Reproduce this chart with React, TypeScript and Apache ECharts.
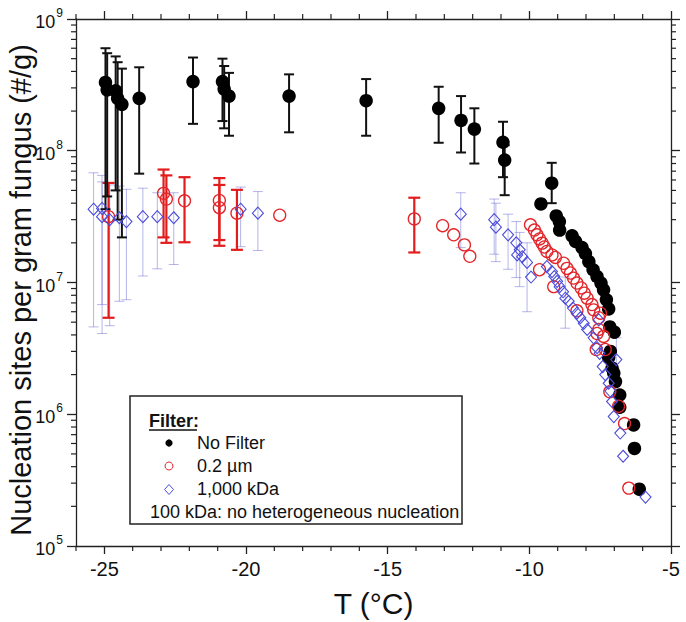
import React, { useEffect, useRef } from 'react';
import * as echarts from 'echarts';

// ---------- data ----------
const xTickValues = [-25, -20, -15, -10, -5];
const yDecades = [1e5, 1e6, 1e7, 1e8, 1e9];

// No Filter (black filled circles)
const noFilterT = [-24.96, -24.9, -24.6, -24.53, -24.38, -23.77, -21.87, -20.83, -20.77, -20.6, -18.48, -15.76, -13.2, -12.41, -11.94, -10.93, -10.87, -9.21, -9.59, -9.05, -8.94, -8.93, -8.49, -8.37, -8.14, -8.02, -7.9, -7.75, -7.61, -7.47, -7.38, -7.28, -7.2, -7.16, -7.0, -7.14, -7.2, -7.08, -7.02, -6.96, -6.81, -6.81, -6.32, -6.29, -6.12];
const noFilterN = [3.3e8, 2.9e8, 2.85e8, 2.5e8, 2.25e8, 2.5e8, 3.35e8, 3.35e8, 2.94e8, 2.6e8, 2.6e8, 2.4e8, 2.1e8, 1.7e8, 1.46e8, 1.16e8, 8.5e7, 5.67e7, 3.95e7, 3.2e7, 2.9e7, 2.5e7, 2.26e7, 2.05e7, 1.84e7, 1.66e7, 1.44e7, 1.25e7, 1.11e7, 9.9e6, 8.8e6, 7.4e6, 6.3e6, 4.6e6, 4.2e6, 3.0e6, 2.7e6, 2.24e6, 2.05e6, 1.77e6, 1.4e6, 1.13e6, 8.3e5, 5.5e5, 2.7e5];
const noFilterErrT = [-24.96, -24.9, -24.6, -24.53, -24.38, -23.77, -21.87, -20.83, -20.77, -20.6, -18.48, -15.76, -13.2, -12.41, -11.94, -10.93, -10.87, -9.21];
const noFilterErrLow = [3.6e7, 4.5e7, 5.0e7, 3.0e7, 2.2e7, 6.7e7, 1.6e8, 1.68e8, 1.48e8, 1.3e8, 1.38e8, 1.3e8, 1.15e8, 9.7e7, 8.0e7, 6.3e7, 4.6e7, 4.0e7];
const noFilterErrHigh = [6.0e8, 5.5e8, 5.2e8, 4.7e8, 4.2e8, 4.3e8, 5.1e8, 5.0e8, 4.4e8, 3.9e8, 3.8e8, 3.5e8, 3.06e8, 2.6e8, 2.1e8, 1.66e8, 1.1e8, 8.1e7];

// 0.2 µm (red open circles)
const filter02T = [-24.85, -22.91, -22.81, -22.17, -20.94, -20.94, -20.32, -18.81, -14.06, -13.06, -12.67, -12.29, -12.1, -9.96, -9.82, -9.73, -9.64, -9.55, -9.47, -9.38, -9.64, -9.2, -9.08, -9.14, -8.79, -8.67, -8.55, -8.44, -8.32, -8.17, -8.06, -7.96, -7.79, -7.73, -7.49, -7.55, -8.32, -7.55, -7.61, -7.38, -7.64, -7.32, -7.16, -6.85, -6.64, -6.49];
const filter02N = [3.16e7, 4.75e7, 4.3e7, 4.17e7, 4.2e7, 3.7e7, 3.36e7, 3.24e7, 3.04e7, 2.7e7, 2.3e7, 1.93e7, 1.58e7, 2.74e7, 2.5e7, 2.3e7, 2.14e7, 1.99e7, 1.86e7, 1.72e7, 1.25e7, 1.62e7, 1.55e7, 9.3e6, 1.4e7, 1.28e7, 1.18e7, 1.08e7, 9.9e6, 9.1e6, 8.3e6, 7.6e6, 6.8e6, 6.2e6, 5.85e6, 5.4e6, 6.1e6, 4.4e6, 4.1e6, 3.9e6, 3.1e6, 3.1e6, 1.48e6, 1.15e6, 8.5e5, 2.75e5];
const filter02ErrT = [-24.85, -22.91, -22.81, -22.17, -20.94, -20.94, -20.32, -14.06];
const filter02ErrLow = [5.4e6, 2.2e7, 2.0e7, 2.02e7, 1.9e7, 2.1e7, 1.77e7, 1.69e7];
const filter02ErrHigh = [5.7e7, 7.2e7, 6.5e7, 6.3e7, 6.2e7, 5.5e7, 5.05e7, 4.4e7];

// 1,000 kDa (blue open diamonds)
const kda1000T = [-25.38, -25.08, -25.08, -24.81, -24.47, -24.22, -23.64, -23.13, -22.55, -20.19, -19.58, -12.42, -11.24, -11.18, -10.75, -10.46, -10.34, -10.43, -10.25, -10.08, -9.94, -9.38, -9.2, -9.12, -9.02, -8.93, -8.81, -8.73, -8.61, -8.46, -8.32, -8.2, -8.08, -7.96, -7.73, -7.55, -7.61, -7.52, -7.41, -7.32, -7.2, -7.14, -7.08, -7.02, -6.93, -6.79, -6.69, -5.9];
const kda1000N = [3.6e7, 3.65e7, 3.16e7, 3.0e7, 3.1e7, 2.9e7, 3.16e7, 3.16e7, 3.1e7, 3.6e7, 3.36e7, 3.3e7, 3.0e7, 2.63e7, 2.3e7, 2.0e7, 1.77e7, 1.62e7, 1.57e7, 1.42e7, 1.1e7, 1.32e7, 1.21e7, 1.11e7, 1.02e7, 9.3e6, 8.5e6, 7.6e6, 7.2e6, 6.4e6, 5.85e6, 5.4e6, 4.9e6, 4.4e6, 3.8e6, 5.2e6, 3.2e6, 2.9e6, 2.3e6, 2.0e6, 1.72e6, 1.5e6, 1.25e6, 9.6e5, 2.6e6, 7.2e5, 4.8e5, 2.35e5];
const kda1000ErrT = [-25.38, -25.08, -25.08, -24.81, -24.47, -24.22, -23.64, -23.13, -22.55, -20.19, -19.58, -12.42, -11.24, -11.18, -10.75, -10.46, -10.34, -10.08, -8.73, -6.93];
const kda1000ErrLow = [4.6e6, 4.1e6, 6.8e6, 4.7e6, 7.2e6, 7.4e6, 1.12e7, 1.27e7, 1.37e7, 1.87e7, 1.75e7, 1.84e7, 1.64e7, 1.44e7, 1.26e7, 1.09e7, 9.3e6, 6.0e6, 4.5e6, 1.8e6];
const kda1000ErrHigh = [6.8e7, 6.5e7, 5.8e7, 5.5e7, 5.4e7, 5.1e7, 5.2e7, 4.8e7, 4.8e7, 5.3e7, 4.9e7, 4.8e7, 4.3e7, 4.0e7, 3.3e7, 2.9e7, 2.4e7, 2.0e7, 1.1e7, 3.8e6];

const yAxisTitle = 'Nucleation sites per gram fungus (#/g)';
const xAxisTitle = 'T (°C)';
const legendTitle = 'Filter:';
const legendLabels = ['No Filter', '0.2 µm', '1,000 kDa'];
const legendNote = '100 kDa: no heterogeneous nucleation';

// ---------- helpers ----------
const FONT = '"Liberation Sans", Arial, sans-serif';
const zip2 = (a: number[], b: number[]) => a.map((v, i) => [v, b[i]]);
const zip3 = (a: number[], b: number[], c: number[]) => a.map((v, i) => [v, b[i], c[i]]);

const minorY: number[][] = [];
for (let d = 0; d < yDecades.length - 1; d++) {
  for (let m = 2; m <= 9; m++) minorY.push([-20, yDecades[d] * m]);
}
const minorX: number[][] = [];
for (let t = -26; t <= -5; t++) {
  if (!xTickValues.includes(t)) minorX.push([t, 1e6]);
}

function errRender(color: string, width: number, cap: number) {
  return (params: any, api: any) => {
    const x = api.value(0);
    const lo = api.coord([x, api.value(1)]);
    const hi = api.coord([x, api.value(2)]);
    const style = { stroke: color, lineWidth: width };
    return {
      type: 'group',
      children: [
        { type: 'line', shape: { x1: lo[0], y1: lo[1], x2: hi[0], y2: hi[1] }, style },
        { type: 'line', shape: { x1: lo[0] - cap, y1: lo[1], x2: lo[0] + cap, y2: lo[1] }, style },
        { type: 'line', shape: { x1: hi[0] - cap, y1: hi[1], x2: hi[0] + cap, y2: hi[1] }, style },
      ],
    };
  };
}

const AXIS_COLOR = '#222';

export default function App() {
  const ref = useRef<HTMLDivElement>(null);
  useEffect(() => {
    const chart = echarts.init(ref.current!, null, { renderer: 'svg' });
    const axisLineStyle = { color: AXIS_COLOR, width: 1.3 };
    const option: any = {
      animation: false,
      backgroundColor: '#fff',
      grid: { left: 76, right: 15, top: 19, bottom: 76, containLabel: false, outerBoundsMode: 'none' },
      xAxis: [
        {
          type: 'value', min: -26, max: -5, position: 'bottom',
          splitLine: { show: false },
          axisLine: { lineStyle: axisLineStyle },
          axisTick: { show: true, inside: false, length: 8, lineStyle: axisLineStyle, customValues: xTickValues },
          axisLabel: { customValues: xTickValues, fontSize: 20, fontFamily: FONT, color: '#111', margin: 13 },
          name: xAxisTitle, nameLocation: 'middle', nameGap: 42,
          nameTextStyle: { fontSize: 30, fontFamily: FONT, color: '#111' },
        },
        {
          type: 'value', min: -26, max: -5, position: 'top',
          splitLine: { show: false },
          axisLine: { lineStyle: axisLineStyle },
          axisTick: { show: true, inside: false, length: 8, lineStyle: axisLineStyle, customValues: xTickValues },
          axisLabel: { show: false },
        },
      ],
      yAxis: [
        {
          type: 'log', logBase: 10, min: 1e5, max: 1e9, position: 'left',
          splitLine: { show: false },
          axisLine: { show: true, lineStyle: axisLineStyle },
          axisTick: { show: true, inside: false, length: 9, lineStyle: axisLineStyle },
          axisLabel: {
            fontFamily: FONT, margin: 13,
            formatter: (v: number) => `{b|10}{s|${Math.round(Math.log10(v))}}`,
            rich: {
              b: { fontSize: 18, fontFamily: FONT, color: '#111', lineHeight: 24, verticalAlign: 'bottom' },
              s: { fontSize: 12, fontFamily: FONT, color: '#111', lineHeight: 24, verticalAlign: 'top', padding: [0, 0, 0, 1] },
            },
          },
        },
        {
          type: 'log', logBase: 10, min: 1e5, max: 1e9, position: 'right',
          splitLine: { show: false },
          axisLine: { show: true, lineStyle: axisLineStyle },
          axisTick: { show: true, inside: false, length: 9, lineStyle: axisLineStyle },
          axisLabel: { show: false },
        },
      ],
      series: [
        {
          type: 'custom', clip: false, silent: true, data: minorY, z: 1,
          renderItem: (params: any, api: any) => {
            const cs = params.coordSys;
            const y = api.coord([api.value(0), api.value(1)])[1];
            const st = { stroke: AXIS_COLOR, lineWidth: 1.2 };
            return {
              type: 'group', children: [
                { type: 'line', shape: { x1: cs.x - 5, y1: y, x2: cs.x, y2: y }, style: st },
                { type: 'line', shape: { x1: cs.x + cs.width, y1: y, x2: cs.x + cs.width + 5, y2: y }, style: st },
              ],
            };
          },
        },
        {
          type: 'custom', clip: false, silent: true, data: minorX, z: 1,
          renderItem: (params: any, api: any) => {
            const cs = params.coordSys;
            const x = api.coord([api.value(0), api.value(1)])[0];
            const st = { stroke: AXIS_COLOR, lineWidth: 1.2 };
            return {
              type: 'group', children: [
                { type: 'line', shape: { x1: x, y1: cs.y + cs.height, x2: x, y2: cs.y + cs.height + 5 }, style: st },
                { type: 'line', shape: { x1: x, y1: cs.y - 5, x2: x, y2: cs.y }, style: st },
              ],
            };
          },
        },
        {
          name: '1,000 kDa err', type: 'custom', silent: true, z: 2,
          encode: { x: 0, y: [1, 2] },
          data: zip3(kda1000ErrT, kda1000ErrLow, kda1000ErrHigh),
          renderItem: errRender('rgba(90,90,210,0.45)', 1, 5),
        },
        {
          name: '0.2 µm err', type: 'custom', silent: true, z: 3,
          encode: { x: 0, y: [1, 2] },
          data: zip3(filter02ErrT, filter02ErrLow, filter02ErrHigh),
          renderItem: errRender('#e21c1c', 2.2, 6),
        },
        {
          name: 'No Filter err', type: 'custom', silent: true, z: 4,
          encode: { x: 0, y: [1, 2] },
          data: zip3(noFilterErrT, noFilterErrLow, noFilterErrHigh),
          renderItem: errRender('#111', 2, 5),
        },
        {
          name: 'No Filter', type: 'scatter', z: 5,
          data: zip2(noFilterT, noFilterN),
          symbol: 'circle', symbolSize: 13.5,
          itemStyle: { color: '#000', opacity: 1 },
        },
        {
          name: '0.2 µm', type: 'scatter', z: 6,
          data: zip2(filter02T, filter02N),
          symbol: 'circle', symbolSize: 12,
          itemStyle: { color: 'rgba(255,255,255,0)', borderColor: '#e3262b', borderWidth: 1.3, opacity: 1 },
        },
        {
          name: '1,000 kDa', type: 'scatter', z: 7,
          data: zip2(kda1000T, kda1000N),
          symbol: 'diamond', symbolSize: [11, 12],
          itemStyle: { color: 'rgba(255,255,255,0)', borderColor: '#4b4bdb', borderWidth: 1.1, opacity: 1 },
        },
      ],
      graphic: [
        { type: 'text', z: 101, x: 21, y: 290, rotation: Math.PI / 2, style: { text: yAxisTitle, font: `29px ${FONT}`, fill: '#111', align: 'center', verticalAlign: 'middle' } },
        { type: 'rect', z: 100, shape: { x: 130, y: 396, width: 332, height: 128 }, style: { fill: '#fff', stroke: '#222', lineWidth: 1.5 } },
        { type: 'text', z: 101, x: 149, y: 421, style: { text: legendTitle, font: `bold 18px ${FONT}`, fill: '#111', verticalAlign: 'middle' } },
        { type: 'line', z: 101, shape: { x1: 149, y1: 430, x2: 197, y2: 430 }, style: { stroke: '#111', lineWidth: 1.3 } },
        { type: 'circle', z: 101, shape: { cx: 169, cy: 443, r: 3.6 }, style: { fill: '#000' } },
        { type: 'text', z: 101, x: 197, y: 443, style: { text: legendLabels[0], font: `18px ${FONT}`, fill: '#111', verticalAlign: 'middle' } },
        { type: 'circle', z: 101, shape: { cx: 169, cy: 466, r: 4 }, style: { fill: 'none', stroke: '#e3262b', lineWidth: 1 } },
        { type: 'text', z: 101, x: 197, y: 466, style: { text: legendLabels[1], font: `18px ${FONT}`, fill: '#111', verticalAlign: 'middle' } },
        { type: 'polygon', z: 101, shape: { points: [[169, 484.5], [173.5, 489.5], [169, 494.5], [164.5, 489.5]] }, style: { fill: 'none', stroke: '#4b4bdb', lineWidth: 1 } },
        { type: 'text', z: 101, x: 197, y: 489, style: { text: legendLabels[2], font: `18px ${FONT}`, fill: '#111', verticalAlign: 'middle' } },
        { type: 'text', z: 101, x: 150, y: 512, style: { text: legendNote, font: `18px ${FONT}`, fill: '#111', verticalAlign: 'middle' } },
      ],
    };
    chart.setOption(option);
    return () => chart.dispose();
  }, []);
  return <div ref={ref} style={{ position: 'absolute', left: 0, top: 0, width: 686, height: 622 }} />;
}
